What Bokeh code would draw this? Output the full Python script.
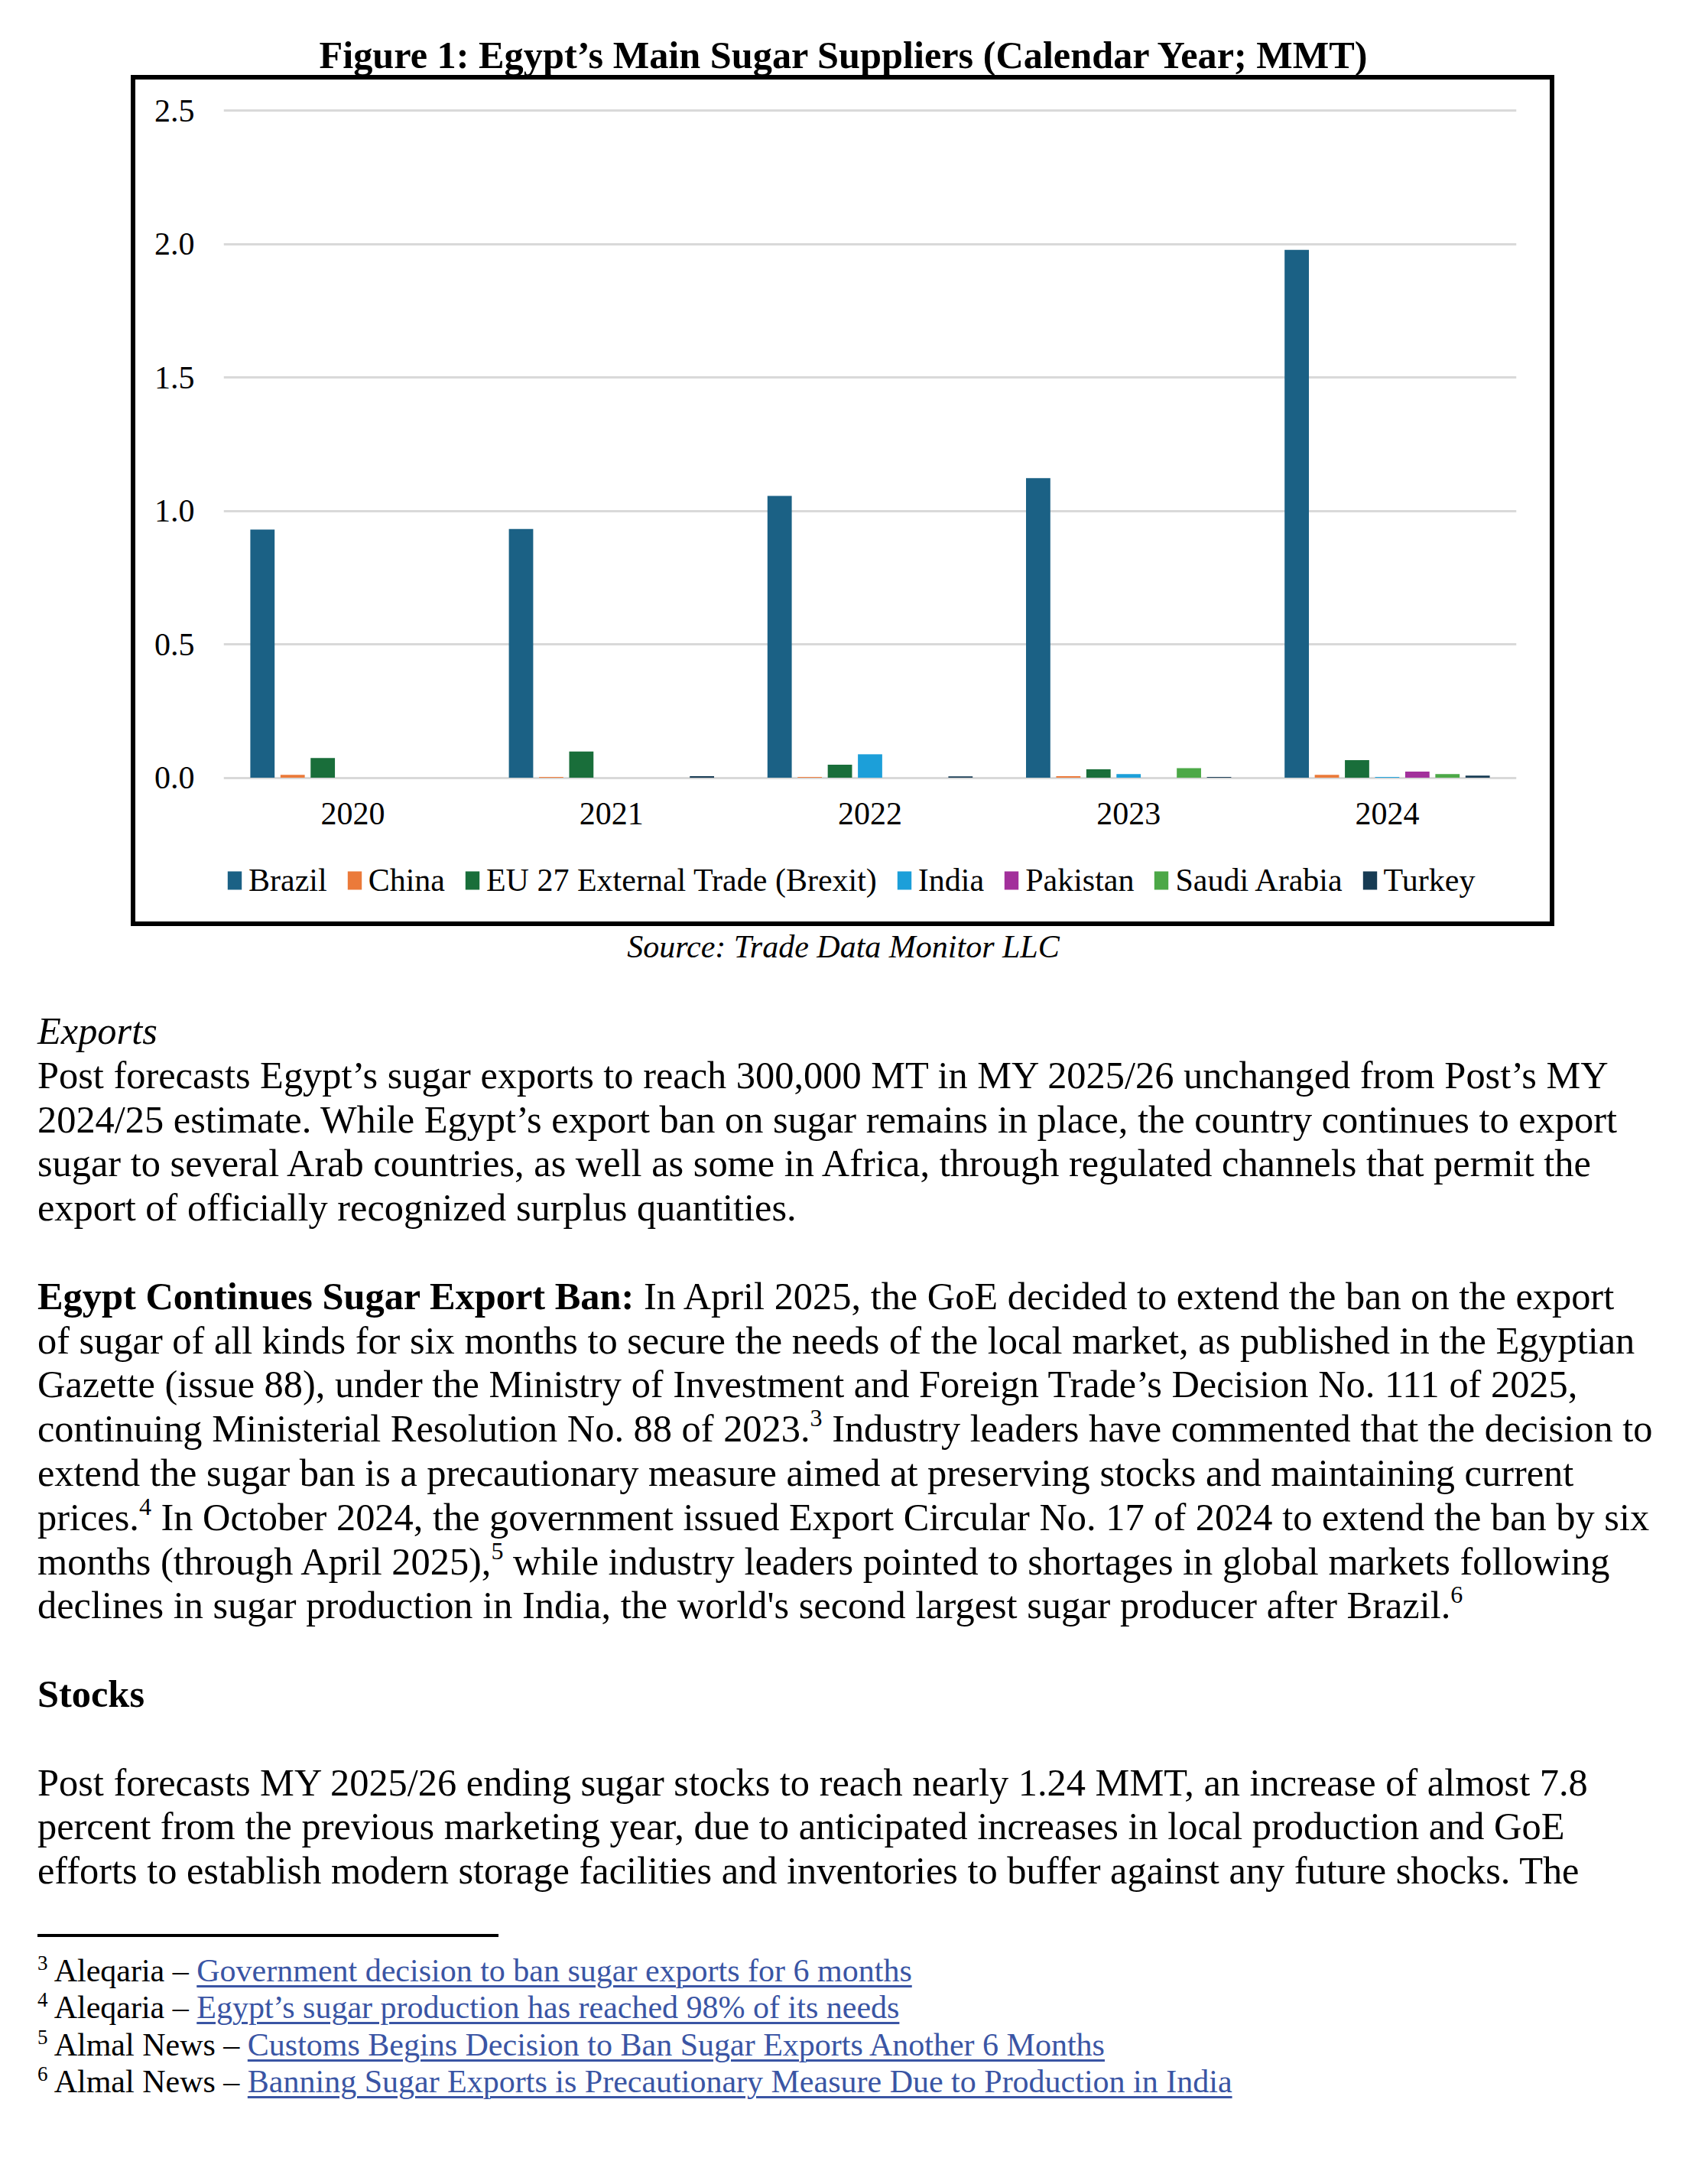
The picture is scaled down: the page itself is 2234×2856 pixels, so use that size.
from bokeh.plotting import figure
from bokeh.models import (ColumnDataSource, Range1d, FactorRange, Legend, LegendItem,
                          Div, Spacer, FixedTicker, PrintfTickFormatter)
from bokeh.transform import dodge
from bokeh.layouts import column, row
from bokeh.embed import file_html
from bokeh.resources import INLINE

# ---------------- data ----------------
years = ["2020", "2021", "2022", "2023", "2024"]
series = ["Brazil", "China", "EU 27 External Trade (Brexit)", "India", "Pakistan", "Saudi Arabia", "Turkey"]
brazil = [0.930, 0.932, 1.056, 1.123, 1.978]
china = [0.011, 0.003, 0.003, 0.006, 0.011]
eu27 = [0.074, 0.098, 0.049, 0.032, 0.066]
india = [0.0, 0.0, 0.088, 0.014, 0.003]
pakistan = [0.0, 0.0, 0.0, 0.0, 0.023]
saudi = [0.0, 0.0, 0.0, 0.036, 0.014]
turkey = [0.0, 0.006, 0.005, 0.003, 0.008]
y_ticks = [0.0, 0.5, 1.0, 1.5, 2.0, 2.5]
colors = ["#1B6185", "#EB7A3A", "#196E3A", "#1C9FD9", "#A2309B", "#4CA847", "#173B53"]

title_text = "Figure 1: Egypt\u2019s Main Sugar Suppliers (Calendar Year; MMT)"
source_text = "Source: Trade Data Monitor LLC"

FONT = "Liberation Serif"
CH = "42px"

src = ColumnDataSource(dict(year=years, s0=brazil, s1=china, s2=eu27, s3=india,
                            s4=pakistan, s5=saudi, s6=turkey))

# chart figure = inside of the black frame
PW, PH = 1850, 1101
p = figure(x_range=FactorRange(*years), y_range=Range1d(-0.540, 2.512),
           width=PW, height=PH, output_backend="svg", toolbar_location=None,
           min_border_left=115, min_border_right=44, min_border_top=36, min_border_bottom=0)
p.outline_line_color = None
p.background_fill_color = "white"
p.border_fill_color = "white"

step = 0.1166
bw = 0.094
items = []
for i, name in enumerate(series):
    r = p.vbar(x=dodge("year", (i - 3) * step, range=p.x_range), top="s%d" % i, width=bw,
               source=src, fill_color=colors[i], line_color=None)
    items.append(LegendItem(label=name, renderers=[r]))

p.xgrid.grid_line_color = None
p.ygrid.grid_line_color = "#D9D9D9"
p.ygrid.grid_line_width = 3
p.yaxis.ticker = FixedTicker(ticks=y_ticks)
p.yaxis.formatter = PrintfTickFormatter(format="%.1f")
for ax in (p.xaxis, p.yaxis):
    ax.axis_line_color = None
    ax.major_tick_line_color = None
    ax.minor_tick_line_color = None
    ax.major_label_text_font = FONT
    ax.major_label_text_font_size = CH
    ax.major_label_text_color = "black"
p.yaxis.major_label_standoff = 32
p.xaxis.major_label_standoff = 27
p.xaxis.fixed_location = 0

legend = Legend(items=items, orientation="horizontal", location=(3, 30),
                padding=0, margin=0, spacing=24, label_standoff=7,
                glyph_width=23, glyph_height=30,
                label_text_font=FONT, label_text_font_size=CH, label_text_color="black",
                border_line_color=None, background_fill_alpha=0)
p.add_layout(legend)

BORDER = 6
def bar(w, h):
    return Spacer(width=w, height=h, margin=0, styles={"background-color": "black"})

boxed = column(bar(PW + 2 * BORDER, BORDER),
               row(bar(BORDER, PH), p, bar(BORDER, PH), spacing=0),
               bar(PW + 2 * BORDER, BORDER), spacing=0)
chart_row = row(Spacer(width=171, height=PH + 2 * BORDER, margin=0), boxed, spacing=0)

title_div = Div(text='<div style="width:2206px;text-align:center;font-family:\'Liberation Serif\';'
                     'font-weight:bold;font-size:50.3px;line-height:50px;padding-top:47px;color:black;'
                     'white-space:nowrap;">' + title_text + '</div>',
                width=2226, height=98, margin=0)
source_div = Div(text='<div style="width:2206px;text-align:center;font-family:\'Liberation Serif\';'
                      'font-style:italic;font-size:42px;line-height:48px;padding-top:3px;color:black;'
                      'white-space:nowrap;">' + source_text + '</div>',
                 width=2226, height=87, margin=0)

# ---------------- text below ----------------
def sup(n, size=32, top=-20):
    return ('<span style="font-size:%dpx;line-height:0;position:relative;top:%dpx;">%s</span>'
            % (size, top, n))

body_lines = [
    "<i>Exports</i>",
    "Post forecasts Egypt\u2019s sugar exports to reach 300,000 MT in MY 2025/26 unchanged from Post\u2019s MY",
    "2024/25 estimate. While Egypt\u2019s export ban on sugar remains in place, the country continues to export",
    "sugar to several Arab countries, as well as some in Africa, through regulated channels that permit the",
    "export of officially recognized surplus quantities.",
    "&nbsp;",
    "<b>Egypt Continues Sugar Export Ban:</b> In April 2025, the GoE decided to extend the ban on the export",
    "of sugar of all kinds for six months to secure the needs of the local market, as published in the Egyptian",
    "Gazette (issue 88), under the Ministry of Investment and Foreign Trade\u2019s Decision No. 111 of 2025,",
    "continuing Ministerial Resolution No. 88 of 2023." + sup(3) + " Industry leaders have commented that the decision to",
    "extend the sugar ban is a precautionary measure aimed at preserving stocks and maintaining current",
    "prices." + sup(4) + " In October 2024, the government issued Export Circular No. 17 of 2024 to extend the ban by six",
    "months (through April 2025)," + sup(5) + " while industry leaders pointed to shortages in global markets following",
    "declines in sugar production in India, the world's second largest sugar producer after Brazil." + sup(6),
    "&nbsp;",
    "<b>Stocks</b>",
    "&nbsp;",
    "Post forecasts MY 2025/26 ending sugar stocks to reach nearly 1.24 MMT, an increase of almost 7.8",
    "percent from the previous marketing year, due to anticipated increases in local production and GoE",
    "efforts to establish modern storage facilities and inventories to buffer against any future shocks. The",
]

link = ('style="color:#3A55A4;text-decoration:underline;text-decoration-thickness:3px;'
        'text-underline-offset:5px;"')
foot_lines = [
    sup(3, 27, -15) + " Aleqaria \u2013 <span %s>Government decision to ban sugar exports for 6 months</span>" % link,
    sup(4, 27, -15) + " Aleqaria \u2013 <span %s>Egypt\u2019s sugar production has reached 98%% of its needs</span>" % link,
    sup(5, 27, -15) + " Almal News \u2013 <span %s>Customs Begins Decision to Ban Sugar Exports Another 6 Months</span>" % link,
    sup(6, 27, -15) + " Almal News \u2013 <span %s>Banning Sugar Exports is Precautionary Measure Due to Production in India</span>" % link,
]

html = (
    '<div style="font-family:\'Liberation Serif\';color:black;white-space:nowrap;'
    'padding-left:49px;padding-top:22px;">'
    '<div style="font-size:50.4px;line-height:57.8px;">' + "<br>".join(body_lines) + '</div>'
    '<div style="margin-top:53px;width:603px;height:0;border-top:4px solid black;"></div>'
    '<div style="margin-top:20px;font-size:42px;line-height:48.3px;">' + "<br>".join(foot_lines) + '</div>'
    '</div>'
)
text_div = Div(text=html, width=2226, height=1550, margin=0)

layout = column(title_div, chart_row, source_div, text_div, spacing=0)
open("out.html", "w").write(file_html(layout, INLINE, title="Egypt sugar suppliers"))
